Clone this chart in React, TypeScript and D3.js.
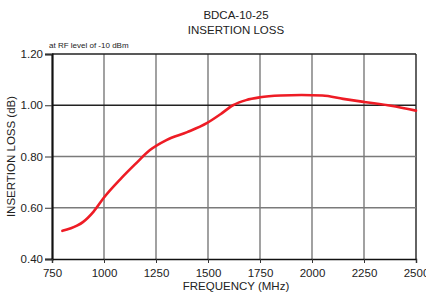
import React, { useRef, useEffect } from "react";
import * as d3 from "d3";

// curve
const freq = [800, 870, 900, 950, 1000, 1077, 1150, 1221, 1300, 1400, 1494, 1560, 1620, 1683, 1750, 1850, 1950, 2050, 2150, 2250, 2380, 2500];
const loss = [0.51, 0.53, 0.545, 0.585, 0.64, 0.71, 0.77, 0.825, 0.864, 0.895, 0.93, 0.965, 1.0, 1.02, 1.031, 1.038, 1.04, 1.038, 1.025, 1.013, 0.998, 0.979];
const xTicks = [750, 1000, 1250, 1500, 1750, 2000, 2250, 2500];
const yTicks = [0.4, 0.6, 0.8, 1.0, 1.2];

export default function App() {
    const svgRef = useRef<SVGSVGElement>(null);

    const W = 426, H = 293;
    const margin = { top: 54, right: 10, bottom: 34, left: 52 };
    const width = W - margin.left - margin.right;
    const height = H - margin.top - margin.bottom;

    useEffect(() => {
        const root = d3.select(svgRef.current);
        root.selectAll("*").remove();
        root.attr("width", W).attr("height", H)
            .style("font-family", "Liberation Sans, Arial, sans-serif");

        const x = d3.scaleLinear().domain([750, 2500]).range([0, width]);
        const y = d3.scaleLinear().domain([0.4, 1.2]).range([height, 0]);

        const svg = root.append("g")
            .attr("transform", "translate(" + margin.left + "," + margin.top + ")");

        // grid
        svg.selectAll(".vg").data(xTicks.slice(1)).enter().append("line")
            .attr("x1", d => x(d)).attr("x2", d => x(d))
            .attr("y1", 0).attr("y2", height)
            .attr("stroke", d => d === 2500 ? "#222" : "#7a7a7a")
            .attr("stroke-width", 1.4);
        svg.selectAll(".hg").data(yTicks.slice(1)).enter().append("line")
            .attr("x1", 0).attr("x2", width)
            .attr("y1", d => y(d)).attr("y2", d => y(d))
            .attr("stroke", d => (d === 1.0 || d === 1.2) ? "#222" : "#7a7a7a")
            .attr("stroke-width", 1.4);

        // axes
        const yAxis = svg.append("g")
            .call(d3.axisLeft(y).tickValues(yTicks).tickFormat(d3.format(".2f")).tickSize(7).tickPadding(2));
        yAxis.select(".domain").attr("stroke", "#111").attr("stroke-width", 2.2);
        yAxis.selectAll(".tick line").attr("stroke", "#333");
        yAxis.selectAll("text").attr("font-size", 11.5).attr("fill", "#222")
            .attr("font-family", "Liberation Sans, Arial, sans-serif");

        const xAxis = svg.append("g")
            .attr("transform", "translate(0," + height + ")")
            .call(d3.axisBottom(x).tickValues(xTicks).tickFormat(d3.format("d")).tickSize(4).tickPadding(6));
        xAxis.select(".domain").attr("stroke", "#111").attr("stroke-width", 1.4);
        xAxis.selectAll(".tick line").attr("stroke", "#333");
        xAxis.selectAll("text").attr("font-size", 11.5).attr("fill", "#222")
            .attr("font-family", "Liberation Sans, Arial, sans-serif");

        // curve
        const pts = freq.map((f, i) => [f, loss[i]] as [number, number]);
        svg.append("path")
            .datum(pts)
            .attr("fill", "none")
            .attr("stroke", "#ee1c25")
            .attr("stroke-width", 2.6)
            .attr("stroke-linecap", "round")
            .attr("d", d3.line<[number, number]>()
                .x(d => x(d[0]))
                .y(d => y(d[1]))
                .curve(d3.curveMonotoneX));

        // labels
        root.append("text").attr("x", 236).attr("y", 19).attr("text-anchor", "middle")
            .attr("font-size", 11.5).attr("fill", "#222").text("BDCA-10-25");
        root.append("text").attr("x", 236).attr("y", 34).attr("text-anchor", "middle")
            .attr("font-size", 11.5).attr("fill", "#222").text("INSERTION LOSS");
        root.append("text").attr("x", 49).attr("y", 48)
            .attr("font-size", 8).attr("fill", "#222").text("at RF level of -10 dBm");
        root.append("text").attr("x", 236).attr("y", 290).attr("text-anchor", "middle")
            .attr("font-size", 11.5).attr("fill", "#222").text("FREQUENCY (MHz)");
        root.append("text")
            .attr("transform", "translate(15," + (margin.top + height / 2) + ") rotate(-90)")
            .attr("text-anchor", "middle")
            .attr("font-size", 11.5).attr("fill", "#222").text("INSERTION LOSS (dB)");
    }, []);

    return (
        <div style={{ position: "absolute", left: 0, top: 0 }}>
            <svg ref={svgRef} style={{ display: "block" }} />
        </div>
    );
}
